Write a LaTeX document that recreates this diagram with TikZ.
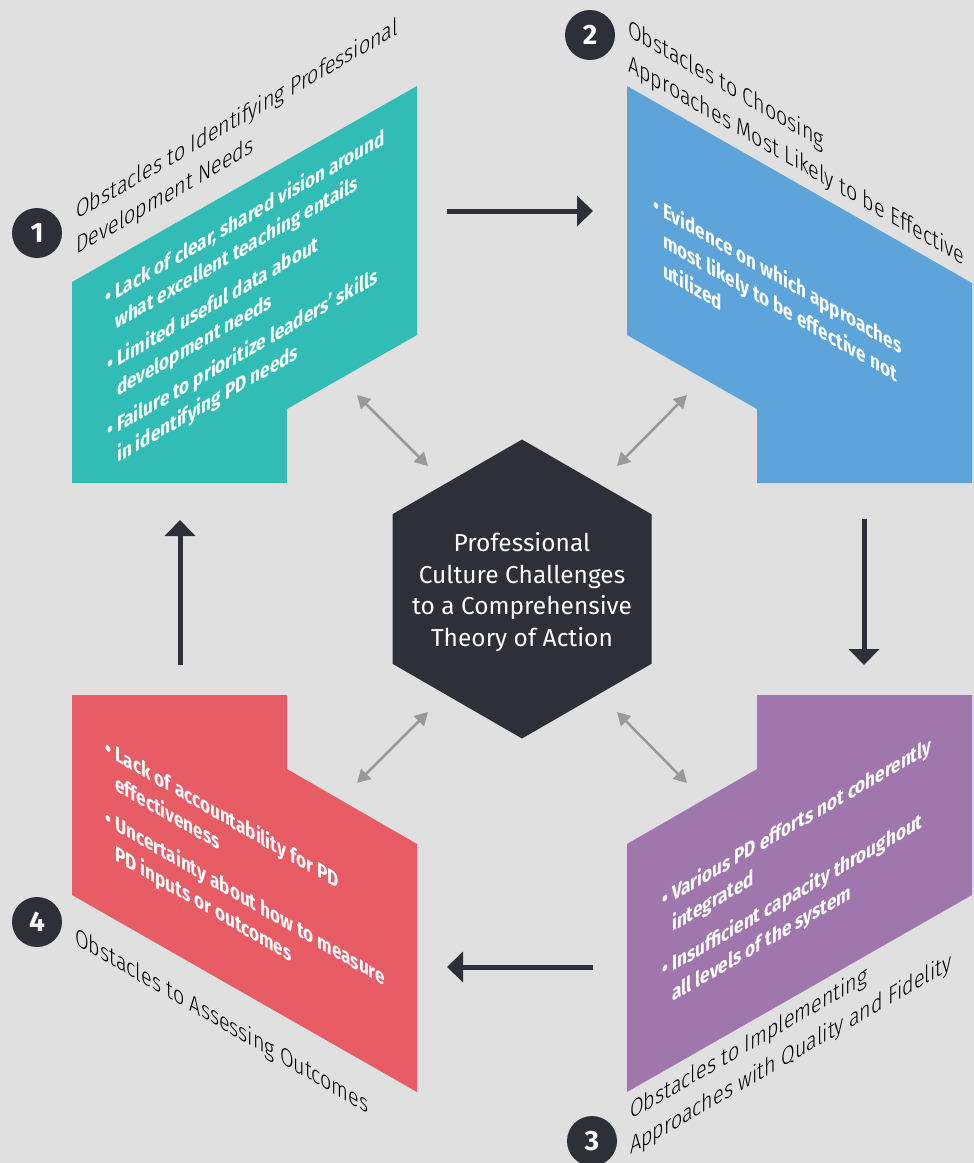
\documentclass[tikz,border=0pt]{standalone}
\usepackage{fontspec}
\setmainfont{Fira Sans}
\newfontfamily\lightfont{Fira Sans Light}
\usetikzlibrary{arrows.meta}

\definecolor{bgGray}{HTML}{E0E0E0}
\definecolor{tealBox}{HTML}{31BDB5}
\definecolor{blueBox}{HTML}{5DA4DA}
\definecolor{redBox}{HTML}{E85C66}
\definecolor{purpleBox}{HTML}{A077AD}
\definecolor{darkHub}{HTML}{2D3038}
\definecolor{linkGray}{HTML}{999999}

\tikzset{
  riseText/.style={cm={0.866,0.5,0,1.08,(0,0)}},
  fallText/.style={cm={0.866,-0.5,0,1.08,(0,0)}},
  headline/.style={anchor=base west, align=left, text=black, inner sep=0pt,
    font=\lightfont\fontsize{22.8}{32.4}\selectfont},
  bullets/.style={anchor=base west, align=left, text=white, inner sep=0pt,
    font=\bfseries\fontsize{19.8}{27.8}\selectfont},
  badge/.style={circle, fill=darkHub, minimum size=50pt, inner sep=0pt, text=white,
    font=\bfseries\fontsize{28}{28}\selectfont},
  hubText/.style={align=center, text=white, inner sep=0pt,
    font=\fontsize{24.5}{31.5}\selectfont},
  flow/.style={line width=5pt, darkHub, -{Triangle[length=16pt,width=30pt]}},
  link/.style={line width=2.5pt, linkGray,
    {Triangle[length=13pt,width=14pt]}-{Triangle[length=13pt,width=14pt]}},
}

\newcommand{\bul}{\llap{\textbullet\hspace{4pt}}}

\begin{document}
\begin{tikzpicture}[x=1pt, y=-1pt]
    % Background
    \fill[bgGray] (0,0) rectangle (974,1163);
    \useasboundingbox (0,0) rectangle (974,1163);

    % Four panels
    \fill[tealBox] (72,282) -- (417,86) -- (417,335) -- (287,409) -- (287,483) -- (72,483) -- cycle;
    \fill[blueBox] (627,86) -- (972,283) -- (972,483) -- (757,483) -- (757,409) -- (627,335) -- cycle;
    \fill[purpleBox] (757,695) -- (972,695) -- (972,895) -- (627,1092) -- (627,844) -- (757,769) -- cycle;
    \fill[redBox] (72,695) -- (287,695) -- (287,769) -- (417,844) -- (417,1092) -- (72,895) -- cycle;

    % Centre hexagon
    \fill[darkHub] (522,439.5) -- (651.5,514.25) -- (651.5,663.75) -- (522,738.5)
      -- (392.5,663.75) -- (392.5,514.25) -- cycle;
    \node[hubText] (hub) at (522,592)
      {Professional\\Culture Challenges\\to a Comprehensive\\Theory of Action};

    % Titles and badges (anchor = baseline of the last line)
    \node[badge] (n1) at (37,233) {1};
    \node[badge] (n2) at (590,35) {2};
    \node[badge] (n3) at (592,1141) {3};
    \node[badge] (n4) at (37,922) {4};
    \node[headline, riseText] (t1) at (76,255) {Obstacles to Identifying Professional\\Development Needs};
    \node[headline, fallText] (t2) at (628,71) {Obstacles to Choosing\\Approaches Most Likely to be Effective};
    \node[headline, riseText] (t3) at (630,1155) {Obstacles to Implementing\\Approaches with Quality and Fidelity};
    \node[headline, fallText] (t4) at (75,944) {Obstacles to Assessing Outcomes};

    % Bullet texts
    \node[bullets, riseText] (tealA) at (115,330) {\bul Lack of clear, shared vision around\\what excellent teaching entails};
    \node[bullets, riseText] (tealB) at (117,397) {\bul Limited useful data about\\development needs};
    \node[bullets, riseText] (tealC) at (117,463) {\bul Failure to prioritize leaders' skills\\in identifying PD needs};
    \node[bullets, fallText] (blueA) at (663,277) {\bul Evidence on which approaches\\most likely to be effective not\\utilized};
    \node[bullets, riseText] (purpA) at (672,932) {\bul Various PD efforts not coherently\\integrated};
    \node[bullets, riseText] (purpB) at (672,1002) {\bul Insufficient capacity throughout\\all levels of the system};
    \node[bullets, fallText] (redA) at (115,790) {\bul Lack of accountability for PD\\effectiveness};
    \node[bullets, fallText] (redB) at (115,860) {\bul Uncertainty about how to measure\\PD inputs or outcomes};

    % Cycle arrows
    \coordinate (top1) at (447,211);
    \coordinate (top2) at (593,211);
    \coordinate (rgt1) at (864,519);
    \coordinate (rgt2) at (864,665);
    \coordinate (bot1) at (593,967);
    \coordinate (bot2) at (447,967);
    \coordinate (lft1) at (180,665);
    \coordinate (lft2) at (180,520);
    \draw[flow] (top1) -- (top2);
    \draw[flow] (rgt1) -- (rgt2);
    \draw[flow] (bot1) -- (bot2);
    \draw[flow] (lft1) -- (lft2);

    % Links to the centre
    \coordinate (tl1) at (357,395);
    \coordinate (tl2) at (428,466);
    \coordinate (tr1) at (687,395);
    \coordinate (tr2) at (617,466);
    \coordinate (bl1) at (428,712);
    \coordinate (bl2) at (357,783);
    \coordinate (br1) at (617,712);
    \coordinate (br2) at (687,783);
    \draw[link] (tl1) -- (tl2);
    \draw[link] (tr1) -- (tr2);
    \draw[link] (bl1) -- (bl2);
    \draw[link] (br1) -- (br2);
\end{tikzpicture}
\end{document}
